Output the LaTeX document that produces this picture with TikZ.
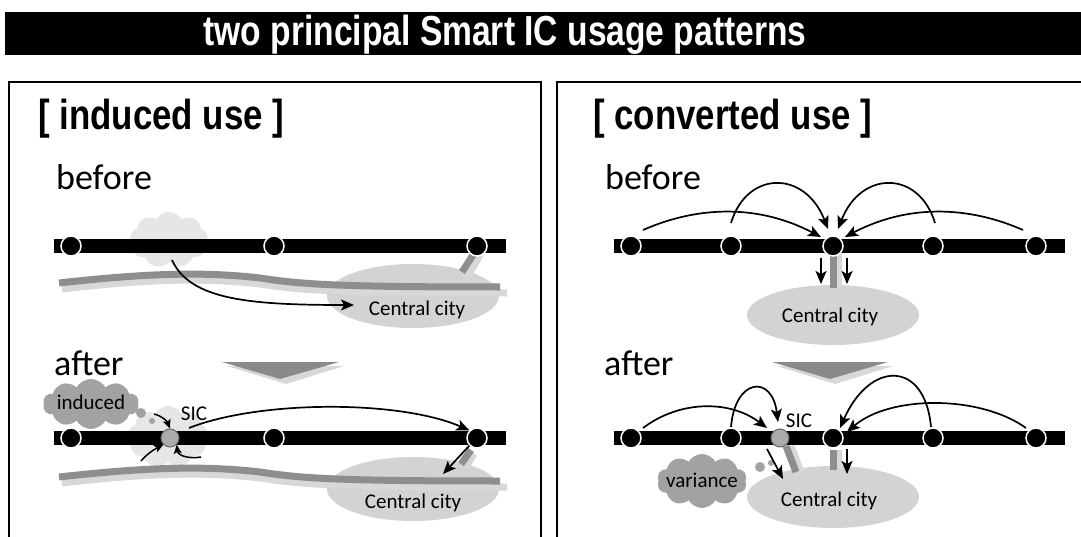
\documentclass[tikz,border=0pt]{standalone}
\usepackage{fontspec}
\setmainfont{Carlito}
\newfontfamily\headfont{Liberation Sans}
\usetikzlibrary{shapes.symbols,shapes.geometric,arrows.meta}
\definecolor{roadgray}{HTML}{8E8E8E}
\definecolor{shadowgray}{HTML}{D8D8D8}
\definecolor{citygray}{HTML}{D3D3D3}
\definecolor{blobgray}{HTML}{E6E6E6}
\definecolor{bubblegray}{HTML}{A2A2A2}
\definecolor{sicgray}{HTML}{ABABAB}
\definecolor{trigray}{HTML}{8A8A8A}
\tikzset{
 station/.style={circle, fill=black, draw=white, line width=1.5pt, minimum size=20pt, inner sep=0pt},
 sicnode/.style={circle, fill=sicgray, draw=gray!80!black, line width=1pt, minimum size=18pt, inner sep=0pt},
 railbar/.style={line width=14pt, black},
 road/.style={line width=7pt, roadgray},
 roadshadow/.style={line width=7pt, shadowgray},
 link/.style={line width=7pt, roadgray},
 linkshadow/.style={line width=7pt, shadowgray},
 city/.style={ellipse, fill=citygray, inner sep=0pt},
 flow/.style={line width=1.7pt, -{Stealth[length=13pt,width=11pt,inset=3pt]}},
 smallflow/.style={line width=1.5pt, -{Stealth[length=9pt,width=8pt,inset=2pt]}},
 blob/.style={cloud, cloud puffs=9, cloud puff arc=120, fill=blobgray, inner sep=0pt},
 thought/.style={cloud, cloud puffs=10, cloud puff arc=120, fill=bubblegray, inner sep=0pt},
 bubble/.style={circle, fill=bubblegray, inner sep=0pt},
 bigtitle/.style={font=\headfont\bfseries\fontsize{42}{42}\selectfont, xscale=0.83, anchor=base west, inner sep=0pt},
 phase/.style={font=\fontsize{36}{36}\selectfont, anchor=base west, inner sep=0pt},
 smalltext/.style={font=\fontsize{21}{21}\selectfont, inner sep=0pt},
 panel/.style={line width=1.5pt},
}
\begin{document}
\begin{tikzpicture}[x=1pt,y=-1pt]
\useasboundingbox (0,0) rectangle (1081,537);
\fill[white] (0,0) rectangle (1081,537);
% title bar
\fill[black] (5,12) rectangle (1081,55);
\node[text=white, font=\headfont\bfseries\fontsize{42}{42}\selectfont, xscale=0.8, anchor=base, inner sep=0pt] (title) at (505,46) {two principal Smart IC usage patterns};
% panels
\draw[panel] (9,540) -- (9,82) -- (541,82) -- (541,540);
\draw[panel] (557,540) -- (557,82) -- (1085,82);
\node[bigtitle] (tinduced) at (38,130) {[ induced use ]};
\node[bigtitle] (tconverted) at (593,130) {[ converted use ]};
\node[phase] (beforeL) at (56,190) {before};
\node[phase] (afterL) at (54,375) {after};
\node[phase] (beforeR) at (605,190) {before};
\node[phase] (afterR) at (604,375) {after};

% ===== left before =====
\node[blob, minimum width=78pt, minimum height=56pt] (cloudA) at (169,240) {};
\node[city, minimum width=172pt, minimum height=64pt] (cityA) at (413,296) {};
\draw[roadshadow] (62,289) .. controls (140,280) and (200,277) .. (260,284) .. controls (300,290) and (330,293) .. (507,293);
\draw[road] (59,283) .. controls (140,274) and (200,271) .. (260,278) .. controls (300,284) and (330,287) .. (500,287);
\coordinate (a3) at (477,246);
\draw[linkshadow] (480,255) -- (468,276);
\draw[link] (475,252) -- (462,272);
\draw[railbar] (54,246) -- (506,246);
\node[station] (sa1) at (71,246) {};
\node[station] (sa2) at (274,246) {};
\node[station] (sa3) at (a3) {};
\node[smalltext] (cityAlabel) at (417,310) {Central city};
\coordinate (fromA) at (172,260);
\coordinate (toA) at (354,305);
\draw[flow] (fromA) .. controls (190,300) and (250,305) .. (toA);

% arrow triangle left
\fill[shadowgray] (227,366) -- (344,366) -- (286,384) -- cycle;
\fill[trigray] (222,362) -- (339,362) -- (280,379) -- cycle;

% ===== left after =====
\node[blob, minimum width=80pt, minimum height=62pt] (cloudB) at (168,437) {};
\node[city, minimum width=172pt, minimum height=64pt] (cityB) at (413,489) {};
\draw[roadshadow] (62,483) .. controls (140,474) and (200,471) .. (260,478) .. controls (300,484) and (330,487) .. (507,487);
\draw[road] (59,477) .. controls (140,468) and (200,465) .. (260,472) .. controls (300,478) and (330,481) .. (500,481);
\draw[linkshadow] (474,454) -- (465,468);
\draw[link] (471,450) -- (461,464);
\draw[railbar] (54,438) -- (506,438);
\node[station] (sb1) at (71,438) {};
\node[station] (sb2) at (274,438) {};
\node[station] (sb3) at (477,438) {};
\node[sicnode] (sicB) at (170,438) {};
\node[thought, minimum width=96pt, minimum height=50pt] (induced) at (91,404) {};
\node[smalltext] (inducedlabel) at (91,402) {induced};
\node[bubble, minimum size=10pt] (bb1) at (141,413) {};
\node[bubble, minimum size=6pt] (bb2) at (152,421) {};
\node[smalltext] (sicBlabel) at (194,414) {SIC};
\node[smalltext] (cityBlabel) at (413,503) {Central city};
\draw[flow] (189,428) .. controls (260,400) and (400,400) .. (sb3.north west);
\draw[flow] (sb3.south west) -- (443,474);
\draw[smallflow] (154,414) .. controls (162,416) and (167,421) .. (sicB.north);
\draw[smallflow] (141,461) .. controls (146,455) and (153,450) .. (sicB.south west);
\draw[smallflow] (201,457) .. controls (190,459) and (178,456) .. (sicB.south east);

% ===== right before =====
\node[city, minimum width=172pt, minimum height=60pt] (cityC) at (833,315) {};
\draw[linkshadow] (838,253) -- (838,288);
\draw[link] (833,253) -- (833,288);
\draw[railbar] (614,246) -- (1065,246);
\node[station] (sc1) at (631,246) {};
\node[station] (sc2) at (731,246) {};
\node[station] (sc3) at (833,246) {};
\node[station] (sc4) at (933,246) {};
\node[station] (sc5) at (1036,246) {};
\node[smalltext] (cityClabel) at (830,317) {Central city};
\draw[flow] (643,230) .. controls (700,205) and (760,205) .. (821,237);
\draw[flow] (731,223) .. controls (747,170) and (805,170) .. (828,229);
\draw[flow] (935,223) .. controls (919,170) and (861,170) .. (838,229);
\draw[flow] (1023,230) .. controls (966,205) and (906,205) .. (845,237);
\draw[flow] (821,258) -- (821,284);
\draw[flow] (847,258) -- (847,284);
% arrow triangle right
\fill[shadowgray] (777,366) -- (893,366) -- (835,384) -- cycle;
\fill[trigray] (772,362) -- (888,362) -- (830,379) -- cycle;

% ===== right after =====
\node[city, minimum width=172pt, minimum height=62pt] (cityD) at (833,497) {};
\draw[linkshadow] (791,446) -- (801,472);
\draw[link] (786,446) -- (796,472);
\draw[linkshadow] (838,450) -- (838,470);
\draw[link] (833,450) -- (833,470);
\draw[railbar] (614,438) -- (1065,438);
\node[station] (sd1) at (631,438) {};
\node[station] (sd2) at (731,438) {};
\node[station] (sd3) at (833,438) {};
\node[station] (sd4) at (933,438) {};
\node[station] (sd5) at (1036,438) {};
\node[sicnode] (sicD) at (780,438) {};
\node[thought, minimum width=90pt, minimum height=54pt] (variance) at (702,481) {};
\node[smalltext] (variancelabel) at (702,480) {variance};
\node[bubble, minimum size=10pt] (vb1) at (760,467) {};
\node[bubble, minimum size=6pt] (vb2) at (771,463) {};
\node[smalltext] (sicDlabel) at (799,421) {SIC};
\node[smalltext] (cityDlabel) at (829,501) {Central city};
\draw[flow] (643,428) .. controls (680,400) and (730,400) .. (767,428);
\draw[flow] (731,427) .. controls (735,378) and (772,374) .. (778,422);
\draw[flow] (931,427) .. controls (925,360) and (870,360) .. (840,428);
\draw[flow] (1026,428) .. controls (980,395) and (890,395) .. (847,432);
\draw[flow] (767,449) -- (783,479);
\draw[flow] (847,449) -- (847,474);
\end{tikzpicture}
\end{document}
